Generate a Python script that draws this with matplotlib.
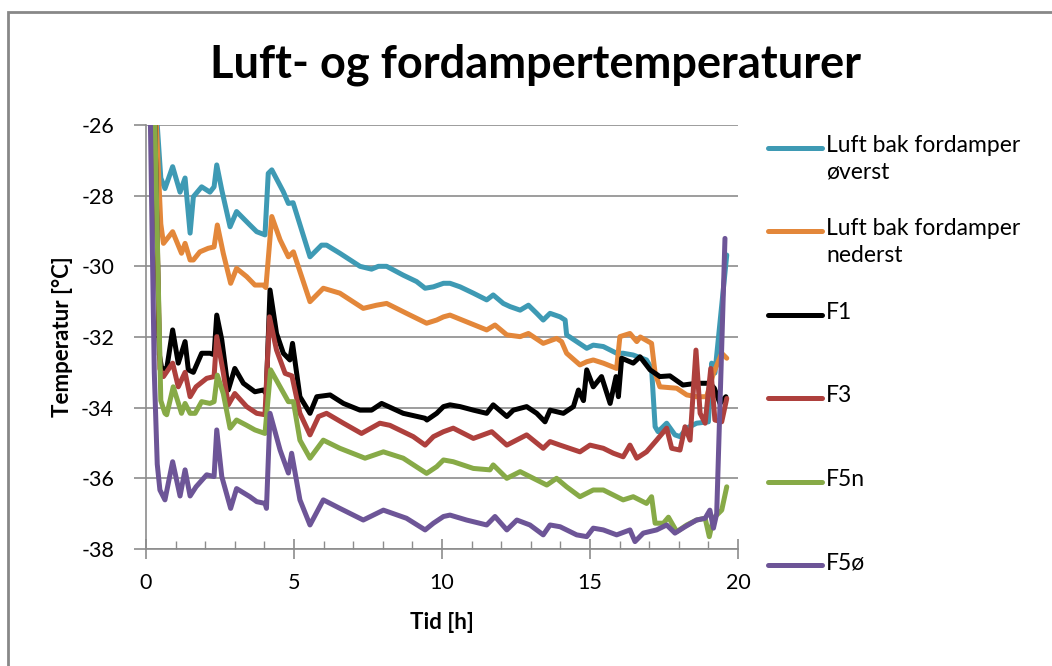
import numpy as np
import matplotlib
matplotlib.use("Agg")
import matplotlib.pyplot as plt
from matplotlib.lines import Line2D
from matplotlib.patches import Rectangle
from matplotlib.ticker import MultipleLocator

plt.rcParams['font.family'] = ['Lato', 'DejaVu Sans']
plt.rcParams['axes.unicode_minus'] = False

# data: time [h] and temperature [°C] for each series
t_luft_over = [0.0, 0.38, 0.5, 0.64, 0.9, 1.15, 1.32, 1.49, 1.6, 1.88, 2.16, 2.3, 2.39, 2.56, 2.84, 3.06,
               3.51, 3.74, 4.02, 4.13, 4.25, 4.64, 4.81, 4.97, 5.54, 5.93, 6.1, 6.55, 7.23, 7.62, 7.85,
               8.13, 8.69, 9.14, 9.43, 9.71, 10.05, 10.27, 10.61, 11.06, 11.51, 11.73, 12.07, 12.3,
               12.64, 12.92, 13.2, 13.42, 13.65, 13.99, 14.16, 14.21, 14.55, 14.89, 15.11, 15.45, 15.9,
               16.12, 16.46, 16.91, 17.08, 17.2, 17.3, 17.59, 17.87, 18.04, 18.27, 18.6, 19.0, 19.11,
               19.22, 19.62]
luft_over = [-20.0, -26.0, -27.5, -27.8, -27.18, -27.9, -27.5, -29.06, -28.03, -27.75, -27.9, -27.75,
             -27.13, -27.84, -28.88, -28.45, -28.83, -29.02, -29.11, -27.37, -27.27, -27.89, -28.22,
             -28.2, -29.73, -29.4, -29.4, -29.63, -30.0, -30.08, -30.0, -30.0, -30.25, -30.43, -30.62,
             -30.58, -30.48, -30.48, -30.58, -30.76, -30.95, -30.81, -31.05, -31.14, -31.24, -31.1,
             -31.33, -31.52, -31.33, -31.43, -31.52, -31.94, -32.13, -32.32, -32.23, -32.27, -32.46,
             -32.46, -32.51, -32.65, -32.89, -34.54, -34.68, -34.44, -34.77, -34.82, -34.58, -34.44,
             -34.4, -32.74, -33.02, -29.68]

t_luft_neder = [0.0, 0.35, 0.5, 0.59, 0.9, 1.2, 1.32, 1.49, 1.6, 1.82, 2.1, 2.3, 2.41, 2.61, 2.86, 3.06,
                3.4, 3.68, 3.96, 4.05, 4.25, 4.53, 4.81, 4.98, 5.54, 5.99, 6.55, 7.34, 7.79, 8.13, 8.8,
                9.48, 9.82, 10.05, 10.27, 10.83, 11.51, 11.79, 12.19, 12.64, 12.92, 13.42, 13.87, 14.04,
                14.21, 14.66, 14.89, 15.11, 15.45, 15.9, 16.01, 16.35, 16.58, 16.7, 17.08, 17.2, 17.36,
                17.93, 18.27, 18.6, 18.94, 19.17, 19.45, 19.62]
luft_neder = [-20.0, -26.0, -28.8, -29.35, -29.02, -29.63, -29.35, -29.82, -29.82, -29.59, -29.49,
              -29.45, -28.83, -29.63, -30.48, -30.06, -30.29, -30.53, -30.53, -30.6, -28.59, -29.25,
              -29.73, -29.59, -31.0, -30.62, -30.76, -31.19, -31.1, -31.05, -31.33, -31.61, -31.52,
              -31.43, -31.38, -31.57, -31.8, -31.66, -31.94, -31.99, -31.9, -32.18, -32.04, -32.13,
              -32.46, -32.79, -32.7, -32.65, -32.74, -32.89, -31.99, -31.9, -32.13, -32.0, -32.18,
              -33.03, -33.41, -33.45, -33.64, -33.69, -33.69, -33.03, -32.46, -32.6]

t_f1 = [0.0, 0.3, 0.45, 0.53, 0.7, 0.9, 1.09, 1.32, 1.43, 1.6, 1.88, 2.16, 2.3, 2.39, 2.56, 2.78, 3.0,
        3.29, 3.68, 3.96, 4.06, 4.19, 4.41, 4.64, 4.86, 4.95, 5.2, 5.54, 5.77, 6.22, 6.67, 7.23, 7.62,
        7.96, 8.69, 9.43, 9.49, 9.82, 10.05, 10.27, 10.61, 11.06, 11.51, 11.73, 12.19, 12.41, 12.86,
        13.2, 13.48, 13.65, 14.1, 14.44, 14.61, 14.78, 14.89, 15.11, 15.39, 15.68, 15.88, 15.96,
        16.07, 16.46, 16.69, 17.03, 17.36, 17.7, 18.14, 18.6, 19.05, 19.2, 19.39, 19.59]
f1 = [-20.0, -26.0, -32.5, -32.89, -32.9, -31.8, -32.74, -32.13, -32.93, -33.0, -32.46, -32.46, -32.5,
      -31.38, -32.08, -33.5, -32.89, -33.31, -33.55, -33.5, -33.6, -30.67, -31.9, -32.46, -32.65,
      -32.18, -33.69, -34.16, -33.69, -33.64, -33.88, -34.07, -34.07, -33.88, -34.16, -34.3, -34.35,
      -34.16, -33.97, -33.92, -33.97, -34.07, -34.16, -33.92, -34.25, -34.07, -33.97, -34.16, -34.4,
      -34.07, -34.16, -33.97, -33.5, -33.8, -32.93, -33.41, -33.12, -33.88, -33.12, -33.69, -32.6,
      -32.74, -32.56, -32.93, -33.12, -33.1, -33.36, -33.31, -33.31, -33.45, -33.88, -33.69]

t_f3 = [0.0, 0.3, 0.47, 0.59, 0.9, 1.09, 1.32, 1.49, 1.69, 2.05, 2.3, 2.39, 2.61, 2.78, 3.0, 3.4, 3.74,
        4.02, 4.17, 4.41, 4.7, 4.93, 5.2, 5.54, 5.83, 6.1, 6.67, 7.28, 7.9, 8.24, 9.03, 9.43, 9.71,
        10.05, 10.38, 11.06, 11.68, 12.19, 12.86, 13.42, 13.65, 13.99, 14.66, 15.0, 15.45, 15.79,
        16.12, 16.35, 16.58, 16.91, 17.25, 17.59, 17.76, 18.04, 18.21, 18.38, 18.58, 18.72, 18.89,
        19.08, 19.22, 19.45, 19.62]
f3 = [-20.0, -26.0, -32.9, -33.12, -32.74, -33.41, -33.0, -33.69, -33.41, -33.17, -33.12, -31.99,
      -33.0, -33.92, -33.6, -33.97, -34.16, -34.2, -31.43, -32.37, -33.03, -33.1, -34.16, -34.77,
      -34.25, -34.16, -34.44, -34.73, -34.44, -34.5, -34.82, -35.06, -34.82, -34.68, -34.58, -34.87,
      -34.68, -35.06, -34.77, -35.15, -34.96, -35.06, -35.25, -35.06, -35.15, -35.29, -35.39, -35.06,
      -35.43, -35.25, -34.92, -34.58, -35.15, -35.2, -34.54, -34.92, -32.37, -34.16, -34.44, -32.89,
      -34.35, -34.4, -33.74]

t_f5n = [0.0, 0.3, 0.5, 0.64, 0.7, 0.92, 1.2, 1.32, 1.49, 1.66, 1.88, 2.16, 2.3, 2.41, 2.61, 2.84,
         3.06, 3.4, 3.68, 4.02, 4.21, 4.53, 4.81, 4.98, 5.2, 5.54, 5.99, 6.55, 7.4, 8.02, 8.69, 9.48,
         9.82, 10.05, 10.38, 11.06, 11.62, 11.73, 12.19, 12.64, 12.97, 13.54, 13.87, 14.21, 14.66,
         15.11, 15.45, 16.12, 16.46, 16.91, 17.08, 17.2, 17.48, 17.65, 17.93, 18.27, 18.6, 18.89,
         19.03, 19.17, 19.45, 19.62]
f5n = [-20.0, -26.0, -33.8, -34.16, -34.2, -33.41, -34.16, -33.88, -34.16, -34.16, -33.83, -33.88,
       -33.83, -33.08, -33.6, -34.58, -34.35, -34.5, -34.63, -34.73, -32.93, -33.41, -33.83, -33.83,
       -34.92, -35.43, -34.92, -35.15, -35.43, -35.25, -35.43, -35.86, -35.67, -35.48, -35.53,
       -35.72, -35.76, -35.62, -36.0, -35.81, -35.95, -36.19, -36.0, -36.24, -36.52, -36.33, -36.33,
       -36.61, -36.52, -36.71, -36.52, -37.27, -37.27, -37.1, -37.51, -37.32, -37.18, -37.13, -37.65,
       -37.13, -36.9, -36.24]

t_f5o = [0.0, 0.15, 0.28, 0.38, 0.47, 0.64, 0.9, 1.15, 1.32, 1.49, 1.69, 2.05, 2.3, 2.39, 2.56, 2.86,
         3.06, 3.51, 3.74, 4.02, 4.07, 4.19, 4.53, 4.81, 4.92, 5.2, 5.54, 5.99, 6.55, 7.34, 8.02, 8.8,
         9.43, 9.71, 10.05, 10.27, 10.83, 11.51, 11.79, 12.19, 12.53, 12.97, 13.42, 13.65, 13.99,
         14.55, 14.89, 15.11, 15.45, 15.9, 16.35, 16.52, 16.8, 17.25, 17.59, 17.87, 18.21, 18.6,
         18.89, 19.05, 19.17, 19.28, 19.56]
f5o = [-20.0, -26.0, -33.0, -35.6, -36.33, -36.61, -35.53, -36.5, -35.76, -36.5, -36.24, -35.9,
       -35.95, -34.63, -35.95, -36.85, -36.29, -36.52, -36.66, -36.71, -36.85, -34.16, -35.2, -35.85,
       -35.29, -36.61, -37.32, -36.61, -36.85, -37.18, -36.9, -37.13, -37.46, -37.27, -37.08, -37.04,
       -37.18, -37.32, -37.08, -37.46, -37.18, -37.32, -37.6, -37.32, -37.37, -37.6, -37.65, -37.41,
       -37.46, -37.6, -37.46, -37.79, -37.55, -37.46, -37.32, -37.55, -37.37, -37.18, -37.13, -36.9,
       -37.41, -37.0, -29.21]

labels = ['Luft bak fordamper\nøverst', 'Luft bak fordamper\nnederst', 'F1', 'F3', 'F5n', 'F5ø']
colors = ['#3E9AB4', '#E3873A', '#000000', '#AE403D', '#87AA47', '#6D5597']
series = [(t_luft_over, luft_over), (t_luft_neder, luft_neder), (t_f1, f1),
          (t_f3, f3), (t_f5n, f5n), (t_f5o, f5o)]

fig = plt.figure(figsize=(10.52, 6.66), dpi=100)
ax = fig.add_axes([146/1052, 1-549/666, (738-146)/1052, (549-125)/666])

for (tt, yy), c in zip(series, colors):
    ax.plot(tt, yy, color=c, lw=3.6, solid_joinstyle='round', solid_capstyle='round')

ax.set_xlim(0, 20)
ax.set_ylim(-38, -26)
ax.xaxis.set_major_locator(MultipleLocator(5))
ax.xaxis.set_minor_locator(MultipleLocator(1))
ax.yaxis.set_major_locator(MultipleLocator(2))

grey = '#8C8C8C'
ax.grid(axis='y', color=grey, lw=1.2)
ax.set_axisbelow(True)
for s in ['top', 'right']:
    ax.spines[s].set_visible(False)
for s in ['left', 'bottom']:
    ax.spines[s].set_color(grey)
    ax.spines[s].set_linewidth(1.2)
ax.tick_params(axis='x', which='major', direction='inout', length=14, color=grey, width=1.2,
               labelsize=15.5, pad=10)
ax.tick_params(axis='x', which='minor', direction='in', length=6, color=grey, width=1.0)
ax.tick_params(axis='y', which='major', direction='out', length=9, color=grey, width=1.2,
               labelsize=15.5, pad=14)

ax.set_xlabel('Tid [h]', fontsize=16, fontweight='bold', labelpad=14)
ax.set_ylabel('Temperatur [°C]', fontsize=16, fontweight='bold', labelpad=6)

fig.text(0.509, 1-65/666, 'Luft- og fordampertemperaturer', ha='center', va='center',
         fontsize=32.5, fontweight='bold')

# legend drawn as in the spreadsheet: equal slots, handle level with first text line
for i, (lab, c) in enumerate(zip(labels, colors)):
    y = 1 - (148 + i*83.4)/666
    fig.add_artist(Line2D([768/1052, 822/1052], [y, y], color=c, lw=3.6,
                          transform=fig.transFigure, solid_capstyle='round'))
    fig.text(826/1052, y + 13/666, lab, ha='left', va='top', fontsize=16.5, linespacing=1.35)

# outer chart frame
fig.add_artist(Rectangle((8/1052, -0.1), 1.2, 1.1 - 12/666, transform=fig.transFigure,
                         fill=False, edgecolor='#888888', lw=2))

fig.savefig('out.png', dpi=100)
